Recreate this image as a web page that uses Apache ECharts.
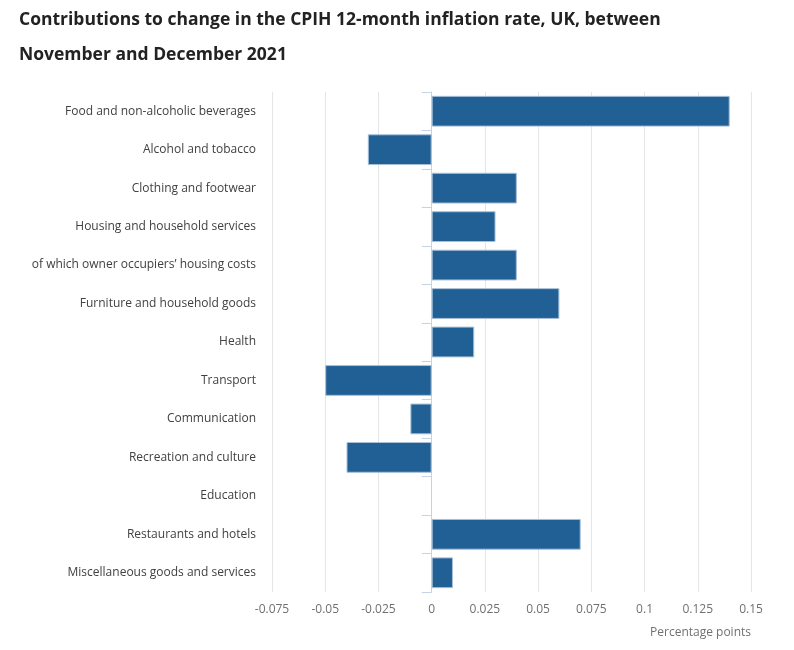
<!DOCTYPE html>
<html>
<head>
<meta charset="utf-8">
<script src="https://cdn.jsdelivr.net/npm/echarts@6/dist/echarts.min.js"></script>
<style>
html,body{margin:0;padding:0;background:#fff;}
#c{width:794px;height:650px;}
</style>
</head>
<body>
<div id="c"></div>
<script>
const categories = [
  "Food and non-alcoholic beverages",
  "Alcohol and tobacco",
  "Clothing and footwear",
  "Housing and household services",
  "of which owner occupiers\u2019 housing costs",
  "Furniture and household goods",
  "Health",
  "Transport",
  "Communication",
  "Recreation and culture",
  "Education",
  "Restaurants and hotels",
  "Miscellaneous goods and services"
];
const values = [0.14, -0.03, 0.04, 0.03, 0.04, 0.06, 0.02, -0.05, -0.01, -0.04, 0, 0.07, 0.01];
const titleLines = ["Contributions to change in the CPIH 12-month inflation rate, UK, between", "November and December 2021"];
const axisName = "Percentage points";

const chart = echarts.init(document.getElementById('c'));
chart.setOption({
  animation: false,
  title: {
    text: titleLines.join("\n"),
    left: 14, top: -2,
    textStyle: {fontFamily: "Open Sans", fontWeight: "bold", fontSize: 17.5, color: "#222222", lineHeight: 35}
  },
  grid: {left: 272, right: 43, top: 92, bottom: 58},
  xAxis: {
    type: 'value', min: -0.075, max: 0.15, interval: 0.025,
    axisLine: {show: false},
    axisTick: {show: false},
    splitLine: {show: true, lineStyle: {color: "#e4e5e8", width: 1}},
    axisLabel: {fontFamily: "Open Sans", fontSize: 12, color: "#707071", margin: 12,
      formatter: v => String(parseFloat(v.toFixed(3)))},
    name: axisName, nameLocation: 'end',
    nameTextStyle: {fontFamily: "Open Sans", fontSize: 12, color: "#707071", align: 'right', verticalAlign: 'top', padding: [35, 0, 0, 0]},
    nameGap: 0
  },
  yAxis: {
    type: 'category', data: categories, inverse: true,
    axisLine: {show: true, lineStyle: {color: "#c6d3e6", width: 1}},
    axisTick: {show: true, length: 10, lineStyle: {color: "#c6d3e6"}},
    axisLabel: {fontFamily: "Open Sans", fontSize: 12, color: "#414042", margin: 16}
  },
  series: [{
    type: 'bar',
    data: values.map(v => v === 0 ? {value: v, itemStyle: {borderWidth: 0}} : v),
    barCategoryGap: '20%',
    itemStyle: {color: "#206095", borderColor: "#a9c0d8", borderWidth: 1}
  }]
});
</script>
</body>
</html>
